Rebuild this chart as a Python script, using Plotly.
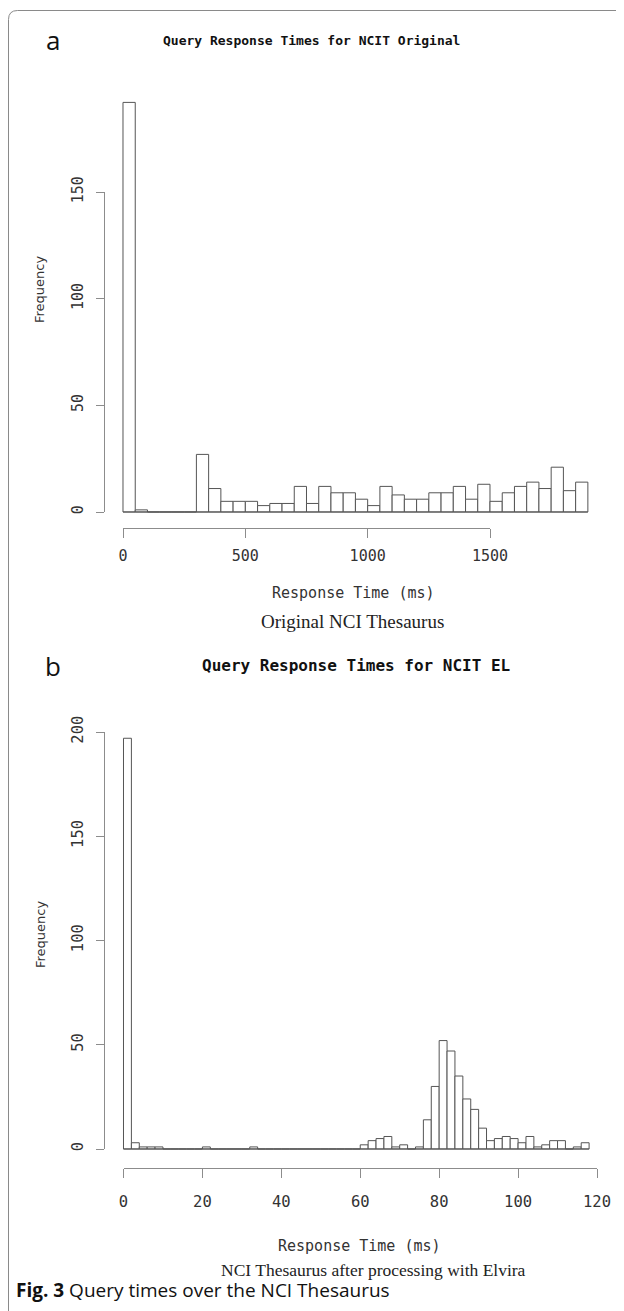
import plotly.graph_objects as go

# The page body has an 8px margin, so the figure is drawn 8px in from the window edge.
OFF = 8
W, H = 624 - OFF, 1311 - OFF

# ---------------- data ----------------
# Panel a: NCIT Original, bins of 50 ms starting at 0
a_bin_width = 50
a_counts = [192, 1, 0, 0, 0, 0, 27, 11, 5, 5, 5, 3, 4, 4, 12, 4, 12, 9, 9, 6,
            3, 12, 8, 6, 6, 9, 9, 12, 6, 13, 5, 9, 12, 14, 11, 21, 10, 14]
a_xticks = [0, 500, 1000, 1500]
a_yticks = [0, 50, 100, 150]
a_title = "Query Response Times for NCIT Original"
a_sub = "Original NCI Thesaurus"

# Panel b: NCIT EL, bins of 2 ms starting at 0
b_bin_width = 2
b_counts = [197, 3, 1, 1, 1, 0, 0, 0, 0, 0,
            1, 0, 0, 0, 0, 0, 1, 0, 0, 0,
            0, 0, 0, 0, 0, 0, 0, 0, 0, 0,
            2, 4, 5, 6, 1, 2, 0, 1, 14, 30,
            52, 47, 35, 24, 19, 10, 4, 5, 6, 5,
            3, 6, 1, 2, 4, 4, 0, 1, 3]
b_xticks = [0, 20, 40, 60, 80, 100, 120]
b_yticks = [0, 50, 100, 150, 200]
b_title = "Query Response Times for NCIT EL"
b_sub = "NCI Thesaurus after processing with Elvira"

xlab = "Response Time (ms)"
ylab = "Frequency"
caption_bold = "Fig. 3"
caption = "Query times over the NCI Thesaurus"

# ---------------- layout helpers ----------------
def px(x):
    return (x - OFF) / W


def py(y):
    return 1 - (y - OFF) / H


MONO = "DejaVu Sans Mono"
BAR_LINE = "#555555"
AX_COL = "#8c8c8c"
TXT = "#333333"

panels = [
    dict(counts=a_counts, bw=a_bin_width, xt=a_xticks, yt=a_yticks, title=a_title, sub=a_sub,
         x0=123.0, xppu=(490.0 - 123.0) / 1500.0, y0=512.0, yppu=(512.0 - 192.0) / 150.0,
         xaxis_y=528.0, yaxis_x=104.0, title_xy=(311, 40), title_size=13, letter="a", letter_y=40,
         tick_size=15, xstand=5, xlab_xy=(353, 593), sub_xy=(352, 622), sub_size=19, ylab_y=290),
    dict(counts=b_counts, bw=b_bin_width, xt=b_xticks, yt=b_yticks, title=b_title, sub=b_sub,
         x0=123.5, xppu=(597.0 - 123.5) / 120.0, y0=1149.0, yppu=(1149.0 - 732.0) / 200.0,
         xaxis_y=1168.0, yaxis_x=104.0, title_xy=(356, 666), title_size=16, letter="b", letter_y=666,
         tick_size=15.5, xstand=10, xlab_xy=(359, 1246), sub_xy=(373, 1270), sub_size=17.5, ylab_y=935),
]

fig = go.Figure()
layout = dict(width=W, height=H, margin=dict(l=0, r=0, t=0, b=0, pad=0, autoexpand=False),
              autosize=False, paper_bgcolor="white", plot_bgcolor="rgba(0,0,0,0)",
              showlegend=False)
annotations = []

for i, p in enumerate(panels):
    n = i + 1
    xa = "x" if n == 1 else f"x{n}"
    ya = "y" if n == 1 else f"y{n}"
    txa, tya = f"x{n + 2}", f"y{n + 2}"
    edges = [k * p["bw"] for k in range(len(p["counts"]) + 1)]
    lefts = edges[:-1]
    xmax = edges[-1]
    ymax = max(p["counts"])
    lo, hi = -0.04 * xmax, 1.04 * xmax
    ylo, yhi = -0.04 * ymax, 1.04 * ymax

    fig.add_trace(go.Bar(x=lefts, y=p["counts"], width=p["bw"], offset=0,
                         marker=dict(color="white", line=dict(color=BAR_LINE, width=1)),
                         xaxis=xa, yaxis=ya, hoverinfo="x+y"))
    fig.add_trace(go.Scatter(x=[edges[0], edges[-1]], y=[0, 0], mode="lines",
                             line=dict(color=BAR_LINE, width=1), xaxis=xa, yaxis=ya,
                             hoverinfo="skip"))
    # carrier traces so the R-style tick axes get drawn
    fig.add_trace(go.Scatter(x=p["xt"], y=[0] * len(p["xt"]), mode="markers",
                             marker=dict(opacity=0), xaxis=txa, yaxis=ya, hoverinfo="skip"))
    fig.add_trace(go.Scatter(x=[0] * len(p["yt"]), y=p["yt"], mode="markers",
                             marker=dict(opacity=0), xaxis=xa, yaxis=tya, hoverinfo="skip"))

    xkey = "xaxis" if n == 1 else f"xaxis{n}"
    ykey = "yaxis" if n == 1 else f"yaxis{n}"
    layout[xkey] = dict(domain=[px(p["x0"] + lo * p["xppu"]), px(p["x0"] + hi * p["xppu"])],
                        range=[lo, hi], visible=False, anchor=ya, fixedrange=True,
                        automargin=False)
    layout[ykey] = dict(domain=[py(p["y0"] - ylo * p["yppu"]), py(p["y0"] - yhi * p["yppu"])],
                        range=[ylo, yhi], visible=False, anchor=xa, fixedrange=True,
                        automargin=False)

    # R-style axes spanning only the tick range
    t0, t1 = p["xt"][0], p["xt"][-1]
    layout[f"xaxis{n + 2}"] = dict(
        domain=[px(p["x0"] + t0 * p["xppu"]), px(p["x0"] + t1 * p["xppu"])],
        range=[t0, t1], anchor="free", position=py(p["xaxis_y"]), side="bottom",
        showline=True, linecolor=AX_COL, linewidth=1, ticks="outside",
        ticklen=9, tickcolor=AX_COL, tickwidth=1, tickvals=p["xt"],
        ticktext=[str(v) for v in p["xt"]], showgrid=False, zeroline=False,
        tickfont=dict(family=MONO, size=p["tick_size"], color=TXT),
        ticklabelstandoff=p["xstand"], fixedrange=True, automargin=False)
    s0, s1 = p["yt"][0], p["yt"][-1]
    layout[f"yaxis{n + 2}"] = dict(
        domain=[py(p["y0"] - s0 * p["yppu"]), py(p["y0"] - s1 * p["yppu"])],
        range=[s0, s1], anchor="free", position=px(p["yaxis_x"]), side="left",
        showline=True, linecolor=AX_COL, linewidth=1, ticks="outside",
        ticklen=8, tickcolor=AX_COL, tickwidth=1, tickvals=p["yt"],
        ticktext=[str(v) for v in p["yt"]], showgrid=False, zeroline=False,
        tickangle=-90, tickfont=dict(family=MONO, size=p["tick_size"], color=TXT),
        ticklabelstandoff=7, fixedrange=True, automargin=False)

    annotations += [
        dict(text=f"<b>{p['title']}</b>", x=px(p["title_xy"][0]), y=py(p["title_xy"][1]),
             font=dict(family=MONO, size=p["title_size"], color="#111111")),
        dict(text=p["letter"], x=px(53), y=py(p["letter_y"]),
             font=dict(family="Open Sans", size=26, color="#111111")),
        dict(text=xlab, x=px(p["xlab_xy"][0]), y=py(p["xlab_xy"][1]),
             font=dict(family=MONO, size=15, color=TXT)),
        dict(text=p["sub"], x=px(p["sub_xy"][0]), y=py(p["sub_xy"][1]),
             font=dict(family="Liberation Serif", size=p["sub_size"], color="#222222")),
        dict(text=ylab, x=px(40), y=py(p["ylab_y"]), textangle=-90,
             font=dict(family="DejaVu Sans", size=13, color=TXT)),
    ]

annotations.append(dict(text=f"<b>{caption_bold}</b> {caption}",
                        x=px(14), y=py(1290), xanchor="left",
                        font=dict(family="Open Sans", size=19, color="#111111")))
for a in annotations:
    a.setdefault("xref", "paper")
    a.setdefault("yref", "paper")
    a.setdefault("showarrow", False)
    a.setdefault("xanchor", "center")
    a.setdefault("yanchor", "middle")

layout["annotations"] = annotations
layout["shapes"] = [dict(type="path", xref="paper", yref="paper",
                         path=(f"M {px(8.5)},{py(1330)} L {px(8.5)},{py(19.5)} "
                               f"Q {px(8.5)},{py(10.5)} {px(17.5)},{py(10.5)} L {px(650)},{py(10.5)}"),
                         line=dict(color="#8a8a8a", width=1))]
fig.update_layout(**layout)
fig.write_html("out.html")
